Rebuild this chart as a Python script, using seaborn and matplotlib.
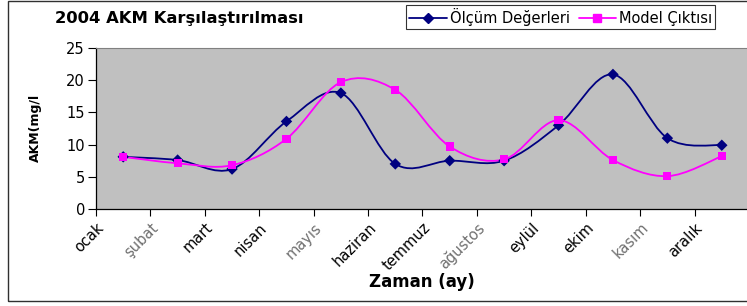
import numpy as np
import pandas as pd
import seaborn as sns
import matplotlib
matplotlib.use('Agg')
import matplotlib.pyplot as plt
from matplotlib.path import Path
from matplotlib.patches import PathPatch, Rectangle
from matplotlib.lines import Line2D
import matplotlib.transforms as mtransforms

# data
aylar = ['ocak', 'şubat', 'mart', 'nisan', 'mayıs', 'haziran',
         'temmuz', 'ağustos', 'eylül', 'ekim', 'kasım', 'aralık']
olcum = [8.1, 7.6, 6.2, 13.6, 18.0, 7.0, 7.5, 7.5, 13.0, 20.9, 11.0, 9.9]
model = [8.1, 7.1, 6.8, 10.9, 19.7, 18.5, 9.7, 7.7, 13.8, 7.6, 5.1, 8.2]
seriler = ['Ölçüm Değerleri', 'Model Çıktısı']
renkler = {'Ölçüm Değerleri': '#000080', 'Model Çıktısı': '#FF00FF'}
isaretler = {'Ölçüm Değerleri': 'D', 'Model Çıktısı': 's'}

df = pd.DataFrame({
    'x': list(range(len(aylar))) * 2,
    'deger': olcum + model,
    'seri': [seriler[0]] * len(aylar) + [seriler[1]] * len(aylar),
})

sns.set_style('white')
plt.rcParams['font.family'] = ['DejaVu Sans']
plt.rcParams.update({'text.color': 'black', 'axes.labelcolor': 'black',
                     'xtick.color': 'black', 'ytick.color': 'black'})

W, H = 747, 306
fig = plt.figure(figsize=(W / 100, H / 100), dpi=100)
ax = fig.add_axes([96 / W, (H - 209) / H, (749 - 96) / W, 161 / H])
ax.set_facecolor('#C0C0C0')


def smooth_path(xs, ys):
    # excel-like smoothed line: cubic bezier segments through the points
    pts = np.column_stack([xs, ys]).astype(float)
    n = len(pts)
    verts = [pts[0]]
    codes = [Path.MOVETO]
    for i in range(n - 1):
        p0 = pts[i - 1] if i > 0 else pts[i]
        p1 = pts[i]
        p2 = pts[i + 1]
        p3 = pts[i + 2] if i + 2 < n else pts[i + 1]
        c1 = p1 + (p2 - p0) / 6.0
        c2 = p2 - (p3 - p1) / 6.0
        verts += [c1, c2, p2]
        codes += [Path.CURVE4] * 3
    return Path(verts, codes)


for s in seriler:
    d = df[df['seri'] == s]
    ax.add_patch(PathPatch(smooth_path(d['x'], d['deger']), fill=False,
                           edgecolor=renkler[s], lw=1.3, zorder=2))

sns.scatterplot(data=df, x='x', y='deger', hue='seri', style='seri',
                palette=renkler, markers=isaretler, s=34, linewidth=0,
                legend=False, ax=ax, zorder=3)

ax.set_xlim(-0.5, 11.5)
ax.set_ylim(0, 25)
ax.set_yticks(range(0, 26, 5))
ax.set_xticks(np.arange(len(aylar)) - 0.5)
ax.set_xticklabels(aylar, rotation=45, ha='right', va='top', fontsize=10.5)
ax.tick_params(axis='y', labelsize=10.5, length=6, width=0.8, direction='out',
               left=True, pad=2, colors='black')
ax.tick_params(axis='x', length=5, width=0.8, direction='out', bottom=True, pad=3,
               colors='black')

gri = {1, 4, 7, 10}
offset = mtransforms.ScaledTranslation(11 / 100, 0, fig.dpi_scale_trans)
for i, lab in enumerate(ax.get_xticklabels()):
    lab.set_transform(lab.get_transform() + offset)
    lab.set_color('#707070' if i in gri else 'black')

for side in ['left', 'bottom']:
    ax.spines[side].set_color('black')
    ax.spines[side].set_linewidth(0.9)
ax.spines['top'].set_color('#808080')
ax.spines['right'].set_color('#808080')

ax.set_xlabel('')
ax.set_ylabel('')
fig.text(35 / W, 1 - 128 / H, 'AKM(mg/l', rotation=90, ha='center', va='center',
         fontsize=9, fontweight='bold', color='black')
fig.text(422 / W, 1 - 282 / H, 'Zaman (ay)', ha='center', va='center',
         fontsize=12, fontweight='bold', color='black')
fig.text(55 / W, 1 - 18 / H, '2004 AKM Karşılaştırılması', ha='left', va='center',
         fontsize=11.8, fontweight='bold', color='black')

handles = [Line2D([], [], color=renkler[s], marker=isaretler[s], lw=1.3,
                  markersize=5.5) for s in seriler]
leg = fig.legend(handles, seriler, loc='upper left',
                 bbox_to_anchor=(406 / W, 1 - 5 / H), ncol=2, fontsize=10.5,
                 frameon=True, fancybox=False, edgecolor='black',
                 handlelength=2.6, handletextpad=0.2, columnspacing=0.6,
                 borderpad=0.2, borderaxespad=0)
leg.get_frame().set_linewidth(0.8)
for t in leg.get_texts():
    t.set_color('black')

# outer chart border
fig.patches.append(Rectangle((8 / W, 5 / H), 1.0, 1 - 6 / H, transform=fig.transFigure,
                             fill=False, edgecolor='#303030', lw=1))

fig.savefig('out.png', dpi=100)
